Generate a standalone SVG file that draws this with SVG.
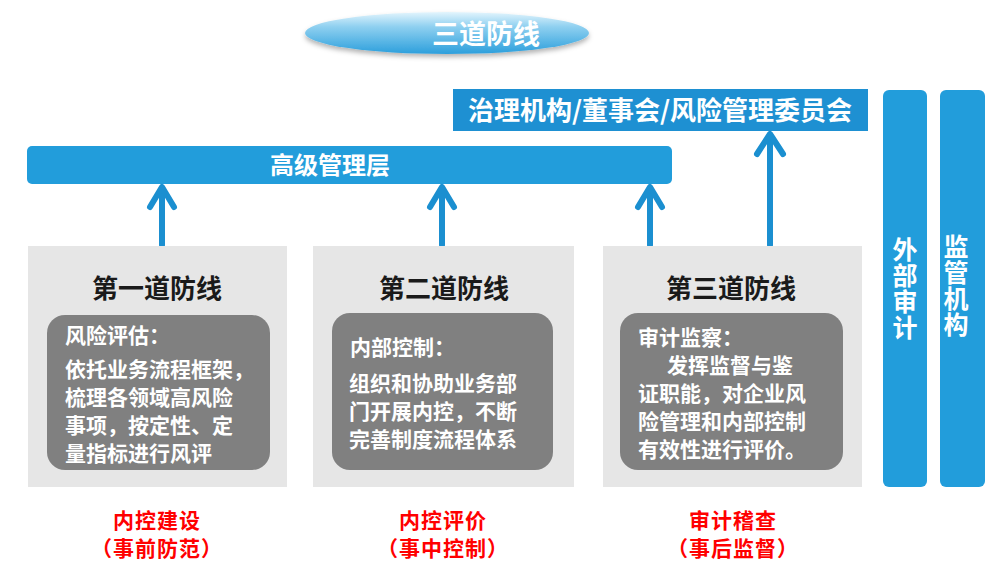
<svg xmlns="http://www.w3.org/2000/svg" width="1000" height="561" viewBox="0 0 1000 561">
<defs>
<linearGradient id="ellG" x1="0" y1="0" x2="0" y2="1">
<stop offset="0" stop-color="#e3f5fd"/>
<stop offset="0.35" stop-color="#8fd0f0"/>
<stop offset="1" stop-color="#2c9fdc"/>
</linearGradient>
<filter id="sh" x="-10%" y="-30%" width="120%" height="170%">
<feDropShadow dx="0" dy="3" stdDeviation="2.5" flood-color="#000" flood-opacity="0.3"/>
</filter>
</defs>
<style>
text{font-family:"Noto Sans CJK SC","Noto Sans CJK JP",sans-serif;font-weight:bold}
.blue{fill:#229ddb}
.w{fill:#ffffff}
.panel{fill:#e6e6e6}
.inner{fill:#808080}
.head{fill:#1a1a1a;font-size:26px;text-anchor:middle}
.body{fill:#ffffff;font-size:21px}
.red{fill:#ff0000;font-size:21px;text-anchor:middle;letter-spacing:1px}
.vert{fill:#ffffff;font-size:25px;writing-mode:vertical-rl;text-anchor:middle;letter-spacing:1px}
.arrow{stroke:#1b8fd0;stroke-width:6;fill:none;stroke-linecap:round;stroke-linejoin:round}
</style>
<rect width="1000" height="561" fill="#ffffff"/>

<g id="title">
<ellipse cx="447" cy="33" rx="142" ry="21" fill="url(#ellG)" filter="url(#sh)"/>
<text x="486" y="44" class="w" font-size="27" text-anchor="middle">三道防线</text>
</g>

<g id="governance">
<rect x="453" y="89" width="415" height="42" fill="#1e90d2"/>
<text x="660" y="120" class="w" font-size="26" text-anchor="middle">治理机构/董事会/风险管理委员会</text>
</g>

<g id="senior">
<rect x="27" y="146" width="645" height="38" rx="5" class="blue"/>
<text x="330" y="174" class="w" font-size="24" text-anchor="middle">高级管理层</text>
</g>

<g id="connectors">
<line x1="162" y1="245" x2="162" y2="189" class="arrow"/>
<polyline points="150,207 162,187 174,207" class="arrow"/>
<line x1="442" y1="245" x2="442" y2="189" class="arrow"/>
<polyline points="430,207 442,187 454,207" class="arrow"/>
<line x1="650" y1="245" x2="650" y2="189" class="arrow"/>
<polyline points="638,207 650,187 662,207" class="arrow"/>
<line x1="770" y1="245" x2="770" y2="136" class="arrow"/>
<polyline points="757,154 770,134 783,154" class="arrow"/>
</g>

<g id="line1">
<rect x="28" y="246" width="259" height="241" class="panel"/>
<text x="157" y="298" class="head">第一道防线</text>
<rect x="47" y="315" width="223" height="155" rx="18" class="inner"/>
<text x="65" y="343" class="body">风险评估：</text>
<text x="65" y="377" class="body" font-size="22">依托业务流程框架，</text>
<text x="65" y="405" class="body" font-size="22">梳理各领域高风险</text>
<text x="65" y="433" class="body" font-size="22">事项，按定性、定</text>
<text x="65" y="461" class="body" font-size="22">量指标进行风评</text>
</g>

<g id="line2">
<rect x="313" y="246" width="261" height="241" class="panel"/>
<text x="444" y="298" class="head">第二道防线</text>
<rect x="332" y="313" width="221" height="157" rx="18" class="inner"/>
<text x="350" y="355" class="body">内部控制：</text>
<text x="349" y="391" class="body" font-size="23">组织和协助业务部</text>
<text x="349" y="419" class="body" font-size="23">门开展内控，不断</text>
<text x="349" y="447" class="body" font-size="23">完善制度流程体系</text>
</g>

<g id="line3">
<rect x="603" y="246" width="259" height="241" class="panel"/>
<text x="731" y="298" class="head">第三道防线</text>
<rect x="620" y="313" width="223" height="157" rx="18" class="inner"/>
<text x="638" y="345" class="body">审计监察：</text>
<text x="667" y="373" class="body" font-size="22">发挥监督与鉴</text>
<text x="638" y="401" class="body" font-size="22">证职能，对企业风</text>
<text x="638" y="429" class="body" font-size="22">险管理和内部控制</text>
<text x="638" y="457" class="body" font-size="22">有效性进行评价。</text>
</g>

<g id="external-audit">
<rect x="883" y="90" width="44" height="397" rx="6" class="blue"/>
<text x="905" y="289" class="vert">外部审计</text>
</g>

<g id="regulator">
<rect x="940" y="90" width="45" height="397" rx="6" class="blue"/>
<text x="956" y="286" class="vert">监管机构</text>
</g>

<g id="labels">
<text x="157" y="528" class="red">内控建设</text>
<text x="157" y="556" class="red">（事前防范）</text>
<text x="443" y="528" class="red">内控评价</text>
<text x="443" y="556" class="red">（事中控制）</text>
<text x="733" y="528" class="red">审计稽查</text>
<text x="733" y="556" class="red">（事后监督）</text>
</g>
</svg>
